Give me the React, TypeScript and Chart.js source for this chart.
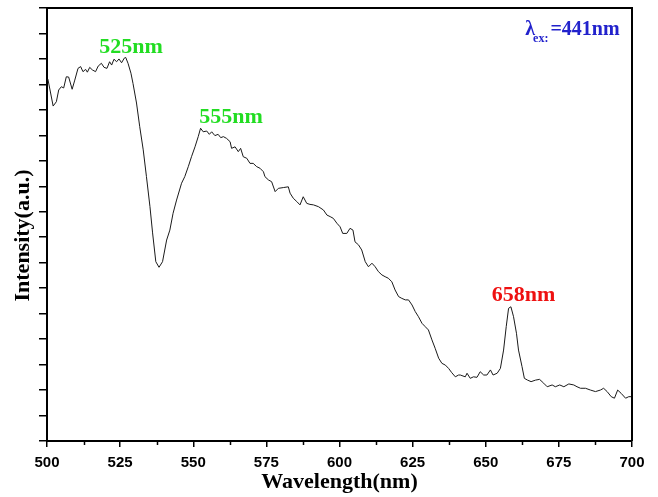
import React, { useEffect, useRef } from "react";
import { Chart, registerables } from "chart.js";

Chart.register(...registerables);

const wavelengths = [
  500.3, 502.1, 503.2, 504.0, 504.9, 505.7, 506.6, 507.4, 508.6, 509.5, 510.6, 511.5, 512.3, 513.2,
  513.8, 514.6, 515.5, 516.6, 517.5, 518.6, 519.5, 520.5, 521.4, 522.1, 522.9, 523.8, 524.6, 525.5,
  526.4, 526.9, 527.7, 528.7, 529.4, 530.6, 531.7, 532.9, 534.0, 535.2, 536.1, 537.2, 538.3, 539.5,
  540.9, 542.0, 543.1, 544.3, 546.0, 547.1, 548.3, 549.4, 550.6, 551.7, 552.5, 553.4, 554.6, 555.5,
  556.3, 557.4, 558.5, 559.4, 560.3, 561.4, 562.6, 563.1, 564.3, 565.4, 566.2, 567.1, 568.3, 569.4,
  570.5, 571.7, 572.8, 574.0, 574.5, 575.7, 576.8, 578.0, 579.1, 580.8, 582.5, 583.1, 584.2, 585.4,
  586.5, 587.6, 588.8, 589.9, 591.1, 592.8, 594.5, 595.7, 596.8, 597.9, 599.1, 600.2, 601.1, 602.5,
  603.6, 604.6, 605.3, 606.5, 607.6, 608.8, 609.9, 611.1, 612.2, 613.3, 614.5, 615.6, 616.7, 617.9,
  619.0, 620.2, 621.3, 622.5, 623.6, 624.8, 625.9, 627.0, 628.2, 629.3, 630.4, 631.6, 632.7, 633.9,
  635.0, 636.2, 637.3, 638.4, 639.6, 640.7, 641.3, 643.0, 643.6, 644.7, 645.8, 647.0, 648.1, 649.3,
  650.4, 651.6, 652.5, 653.9, 655.0, 656.1, 657.0, 657.8, 658.6, 659.5, 660.5, 661.2, 662.4, 663.2,
  664.3, 665.5, 667.0, 668.4, 669.8, 671.0, 672.7, 673.8, 675.3, 676.7, 678.4, 680.1, 681.2, 682.4,
  684.1, 685.8, 687.5, 689.2, 690.3, 691.5, 692.9, 694.0, 695.1, 696.3, 697.8, 698.9, 700.0,
];

const intensity = [
  14.21, 13.15, 13.32, 13.78, 13.91, 13.86, 14.30, 14.29, 13.81, 14.17, 14.63, 14.70, 14.50, 14.59,
  14.48, 14.67, 14.57, 14.50, 14.72, 14.83, 14.67, 14.63, 14.89, 14.76, 14.99, 14.89, 15.00, 14.85,
  15.03, 15.06, 14.83, 14.44, 14.04, 13.27, 12.34, 11.43, 10.38, 9.20, 8.17, 7.04, 6.82, 7.04,
  7.89, 8.28, 8.94, 9.46, 10.12, 10.38, 10.77, 11.16, 11.55, 11.95, 12.28, 12.14, 12.17, 12.04,
  12.14, 11.99, 12.04, 11.91, 11.95, 11.88, 11.75, 11.49, 11.55, 11.36, 11.49, 11.16, 11.10, 10.90,
  10.90, 10.77, 10.71, 10.57, 10.38, 10.25, 10.18, 9.79, 9.92, 9.95, 9.98, 9.73, 9.53, 9.40,
  9.27, 9.59, 9.33, 9.29, 9.27, 9.20, 9.07, 8.87, 8.81, 8.74, 8.55, 8.41, 8.15, 8.15,
  8.35, 8.28, 7.82, 7.70, 7.50, 7.04, 6.84, 6.98, 6.84, 6.65, 6.52, 6.45, 6.39, 6.25,
  5.93, 5.67, 5.60, 5.54, 5.54, 5.34, 5.08, 4.88, 4.62, 4.49, 4.36, 3.97, 3.64, 3.25,
  3.05, 2.98, 2.85, 2.68, 2.52, 2.59, 2.59, 2.52, 2.66, 2.46, 2.52, 2.50, 2.72, 2.59,
  2.59, 2.79, 2.59, 2.66, 2.85, 3.57, 4.49, 5.21, 5.27, 4.88, 4.23, 3.57, 2.92, 2.46,
  2.39, 2.33, 2.39, 2.42, 2.27, 2.13, 2.20, 2.13, 2.20, 2.13, 2.24, 2.20, 2.13, 2.07,
  2.07, 2.00, 1.94, 2.00, 2.07, 1.94, 1.74, 1.68, 2.00, 1.87, 1.68, 1.74, 1.74,
];

const xMajorTicks = [500, 525, 550, 575, 600, 625, 650, 675, 700];
const xMinorTicks = [512.5, 537.5, 562.5, 587.5, 612.5, 637.5, 662.5, 687.5];
const yTicks = [0, 1, 2, 3, 4, 5, 6, 7, 8, 9, 10, 11, 12, 13, 14, 15, 16, 17];

const peakLabels = [
  { text: "525nm", x: 528.7, y: 15.23, color: "#22dd22" },
  { text: "555nm", x: 562.9, y: 12.49, color: "#22dd22" },
  { text: "658nm", x: 662.9, y: 5.5, color: "#ee1111" },
];
const excitationLabel = { symbol: "λ", sub: "ex:", value: "=441nm", x: 663.5, y: 15.94, color: "#2222cc" };

const SERIF = '"Liberation Serif", "Times New Roman", serif';
const SANS = '"Liberation Sans", Arial, sans-serif';

const decorPlugin = {
  id: "decor",
  afterDraw(chart: any) {
    const { ctx, chartArea } = chart;
    const xs = chart.scales.x;
    const ys = chart.scales.y;
    ctx.save();
    // frame top & right
    ctx.strokeStyle = "#000";
    ctx.lineWidth = 2;
    ctx.beginPath();
    ctx.moveTo(chartArea.left, chartArea.top);
    ctx.lineTo(chartArea.right, chartArea.top);
    ctx.lineTo(chartArea.right, chartArea.bottom);
    ctx.stroke();
    // minor x ticks
    ctx.lineWidth = 1.5;
    ctx.beginPath();
    for (const v of xMinorTicks) {
      const px = Math.round(xs.getPixelForValue(v)) + 0.5;
      ctx.moveTo(px, chartArea.bottom);
      ctx.lineTo(px, chartArea.bottom + 4);
    }
    ctx.stroke();
    // peak labels
    ctx.font = `bold 22px ${SERIF}`;
    ctx.textAlign = "center";
    ctx.textBaseline = "alphabetic";
    for (const l of peakLabels) {
      ctx.fillStyle = l.color;
      ctx.fillText(l.text, xs.getPixelForValue(l.x), ys.getPixelForValue(l.y));
    }
    // excitation label
    const e = excitationLabel;
    let x = xs.getPixelForValue(e.x);
    const y = ys.getPixelForValue(e.y);
    ctx.textAlign = "left";
    ctx.fillStyle = e.color;
    ctx.font = `bold 20px ${SERIF}`;
    ctx.fillText(e.symbol, x, y);
    x += ctx.measureText(e.symbol).width - 2;
    ctx.font = `bold 12px ${SERIF}`;
    ctx.fillText(e.sub, x, y + 7);
    x += ctx.measureText(e.sub).width + 2;
    ctx.font = `bold 20px ${SERIF}`;
    ctx.fillText(e.value, x, y);
    ctx.restore();
  },
};

export default function App() {
  const ref = useRef<HTMLCanvasElement | null>(null);
  useEffect(() => {
    if (!ref.current) return;
    const chart = new Chart(ref.current, {
      type: "line",
      data: {
        datasets: [
          {
            data: wavelengths.map((w, i) => ({ x: w, y: intensity[i] })),
            borderColor: "#1a1a1a",
            borderWidth: 1,
            pointRadius: 0,
            tension: 0,
            fill: false,
          },
        ],
      },
      options: {
        animation: false,
        responsive: false,
        devicePixelRatio: 1,
        layout: { padding: { left: 0, top: 8, right: 26, bottom: 0 } },
        plugins: { legend: { display: false }, tooltip: { enabled: false } },
        scales: {
          x: {
            type: "linear",
            min: 500,
            max: 700,
            afterBuildTicks: (s: any) => {
              s.ticks = xMajorTicks.map((v) => ({ value: v }));
            },
            afterFit: (s: any) => {
              s.height = 56;
            },
            ticks: {
              color: "#000",
              font: { family: SANS, size: 15, weight: "bold" },
              padding: 7,
              maxRotation: 0,
              autoSkip: false,
            },
            grid: { drawOnChartArea: false, drawTicks: true, tickLength: 6, color: "#000", lineWidth: 1.5 },
            border: { display: true, color: "#000", width: 2 },
            title: {
              display: true,
              text: "Wavelength(nm)",
              color: "#000",
              font: { family: SERIF, size: 22, weight: "bold" },
              padding: { top: 0, bottom: 1 },
            },
          },
          y: {
            type: "linear",
            min: 0,
            max: 17,
            afterBuildTicks: (s: any) => {
              s.ticks = yTicks.map((v) => ({ value: v }));
            },
            afterFit: (s: any) => {
              s.width = 47;
            },
            ticks: { display: false },
            grid: { drawOnChartArea: false, drawTicks: true, tickLength: 8, color: "#000", lineWidth: 1.5 },
            border: { display: true, color: "#000", width: 2 },
            title: {
              display: true,
              text: "Intensity(a.u.)\u2002\u2002",
              color: "#000",
              font: { family: SERIF, size: 22, weight: "bold" },
              padding: { top: 10, bottom: 0 },
            },
          },
        },
      },
      plugins: [decorPlugin],
    } as any);
    return () => chart.destroy();
  }, []);
  return (
    <div style={{ position: "absolute", left: 0, top: 0, width: 658, height: 497, background: "#fff" }}>
      <canvas ref={ref} width={658} height={497} style={{ width: 658, height: 497, display: "block" }} />
    </div>
  );
}
